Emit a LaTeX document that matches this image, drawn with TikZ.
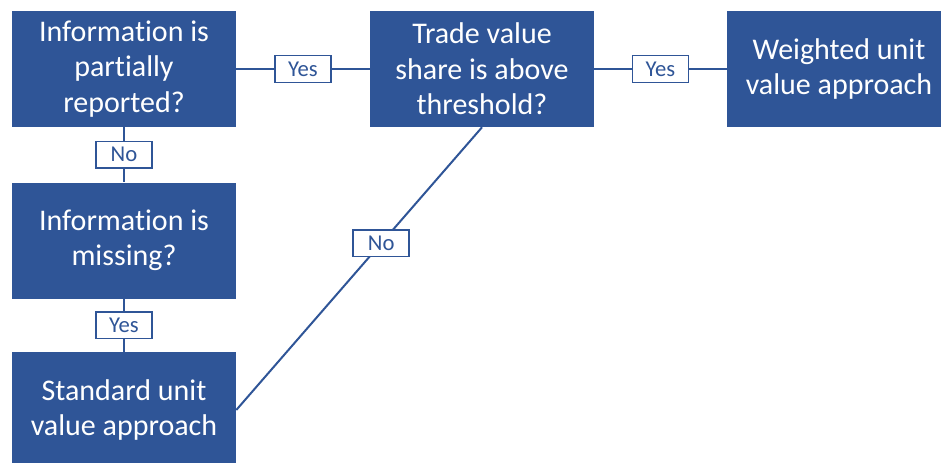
\documentclass[tikz,border=0pt]{standalone}
\usepackage{fontspec}
\setmainfont{Carlito}[Ligatures=NoCommon]
\usepackage{xcolor}
\usepackage{tikz}
\definecolor{boxblue}{HTML}{2F5597}

\begin{document}
\begin{tikzpicture}[x=0.75pt,y=-0.75pt,
  question/.style={fill=boxblue,text=white,inner sep=0pt,align=center,
      minimum width=168pt,minimum height=87pt,font=\fontsize{22.5}{26.5}\selectfont},
  answer/.style={draw=boxblue,line width=1.2pt,fill=white,text=boxblue,inner sep=0pt,
      minimum width=42pt,minimum height=20pt,font=\fontsize{17}{20}\selectfont},
  link/.style={draw=boxblue,line width=1.5pt}]
\clip (0,0) rectangle (941,462);
\node[question] (partial) at (124,69) {Information is\\partially\\reported?};
\node[question] (missing) at (124,240.5) {Information is\\missing?};
\node[question] (standard) at (124,410) {Standard unit\\value approach};
\node[question] (share) at (482,69) {Trade value\\share is above\\threshold?};
\node[question] (weighted) at (839,69) {Weighted unit\\value approach};

\draw[link] (partial) -- node[answer] {Yes} (share);
\draw[link] (share) -- node[answer] {Yes} (weighted);
\draw[link] (partial) -- node[answer] {No} (missing);
\draw[link] (missing) -- node[answer] {Yes} (standard);
\draw[link] (share.south) -- node[answer,pos=0.41] {No} (standard.east);
\end{tikzpicture}
\end{document}
